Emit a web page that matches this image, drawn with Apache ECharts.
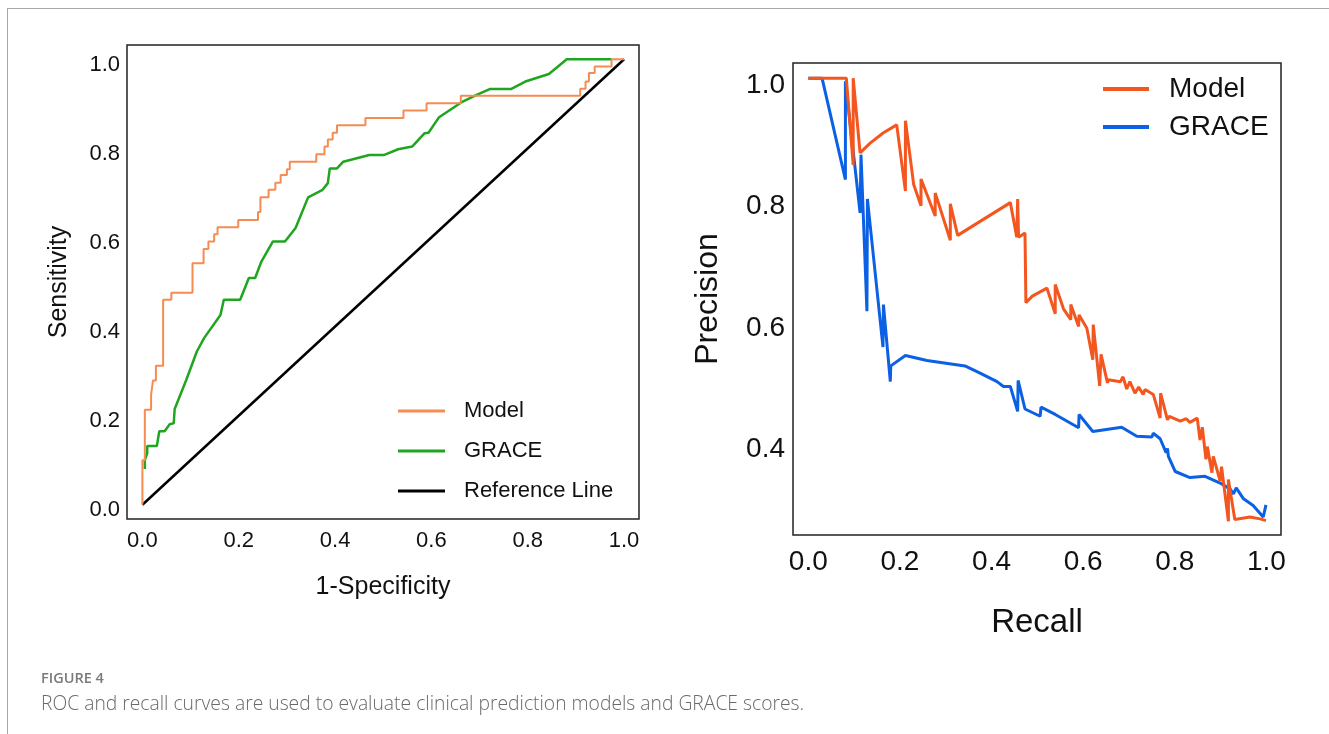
<!DOCTYPE html>
<html>
<head>
<meta charset="utf-8">
<title>ROC and PR curves</title>
<script src="https://cdn.jsdelivr.net/npm/echarts@6/dist/echarts.min.js"></script>
<style>
  html, body { margin: 0; padding: 0; background: #fff; overflow: hidden; }
  #frame { position: absolute; left: 7px; top: 8px; width: 1400px; height: 800px;
           border-top: 1.5px solid #a8a8a8; border-left: 1.5px solid #a8a8a8; }
  #chart { position: absolute; left: 0; top: 0; width: 1329px; height: 734px; }
  .fig { position: absolute; left: 41px; top: 668px; font-family: 'Open Sans', sans-serif;
         font-size: 14.5px; font-weight: 600; color: #7a7a7a; }
  .cap { position: absolute; left: 41px; top: 689px; font-family: 'Open Sans', sans-serif;
         font-size: 19.3px; font-weight: 300; color: #6a6a6a; white-space: nowrap; }
</style>
</head>
<body>
<div id="frame"></div>
<div id="chart"></div>
<div class="fig">FIGURE 4</div>
<div class="cap">ROC and recall curves are used to evaluate clinical prediction models and GRACE scores.</div>
<script>
// ROC (left panel)
const rocModelFpr = [0, 0, 0.005, 0.018, 0.022, 0.028, 0.043, 0.060, 0.104, 0.127, 0.137, 0.149,
  0.156, 0.199, 0.240, 0.245, 0.262, 0.276, 0.287, 0.300, 0.306, 0.361, 0.378, 0.385,
  0.395, 0.404, 0.463, 0.542, 0.590, 0.661, 0.909, 0.920, 0.927, 0.939, 0.974, 1.0];
const rocModelTpr = [0, 0.100, 0.213, 0.247, 0.279, 0.312, 0.460, 0.476, 0.542, 0.574, 0.591, 0.607,
  0.623, 0.639, 0.657, 0.690, 0.707, 0.723, 0.740, 0.753, 0.770, 0.787, 0.804, 0.820,
  0.835, 0.852, 0.868, 0.885, 0.901, 0.918, 0.934, 0.950, 0.969, 0.984, 1.0, 1.0];
const rocGraceFpr = [0.005, 0.005, 0.010, 0.010, 0.030, 0.035, 0.046, 0.057, 0.065, 0.067,
  0.091, 0.113, 0.128, 0.162, 0.169, 0.203, 0.221, 0.234, 0.247, 0.271,
  0.296, 0.318, 0.344, 0.374, 0.385, 0.389, 0.404, 0.417, 0.471, 0.501,
  0.531, 0.560, 0.586, 0.594, 0.616, 0.665, 0.694, 0.721, 0.765, 0.795, 0.844, 0.881, 0.974];
const rocGraceTpr = [0.080, 0.100, 0.116, 0.132, 0.132, 0.165, 0.165, 0.181, 0.183, 0.215,
  0.280, 0.344, 0.374, 0.426, 0.460, 0.460, 0.509, 0.509, 0.546, 0.591,
  0.591, 0.621, 0.690, 0.707, 0.722, 0.755, 0.755, 0.770, 0.785, 0.785,
  0.798, 0.804, 0.834, 0.835, 0.870, 0.905, 0.920, 0.933, 0.933, 0.950, 0.967, 1.0, 1.0];
const refX = [0, 1];
const refY = [0, 1];
const rocTicks = [0, 0.2, 0.4, 0.6, 0.8, 1.0];

// Precision-recall (right panel)
const prModelRecall = [0, 0.083, 0.098, 0.098, 0.113, 0.135, 0.164, 0.193, 0.212, 0.212,
  0.230, 0.246, 0.246, 0.277, 0.277, 0.310, 0.310, 0.326, 0.441, 0.455,
  0.457, 0.459, 0.473, 0.475, 0.489, 0.521, 0.539, 0.539, 0.557, 0.573,
  0.573, 0.590, 0.591, 0.608, 0.621, 0.622, 0.636, 0.639, 0.653, 0.655,
  0.681, 0.687, 0.695, 0.702, 0.713, 0.721, 0.731, 0.735, 0.753, 0.768,
  0.769, 0.784, 0.788, 0.812, 0.825, 0.833, 0.849, 0.855, 0.860, 0.868,
  0.871, 0.881, 0.884, 0.899, 0.902, 0.917, 0.917, 0.931, 0.935, 0.964, 0.986, 0.999];
const prModelPrecision = [1.0, 1.0, 0.857, 1.0, 0.877, 0.893, 0.910, 0.923, 0.814, 0.930,
  0.825, 0.790, 0.834, 0.773, 0.811, 0.733, 0.793, 0.741, 0.795, 0.738,
  0.801, 0.738, 0.745, 0.630, 0.641, 0.654, 0.612, 0.660, 0.620, 0.602,
  0.627, 0.591, 0.610, 0.588, 0.536, 0.594, 0.493, 0.545, 0.498, 0.503,
  0.500, 0.508, 0.488, 0.500, 0.481, 0.491, 0.479, 0.487, 0.479, 0.440,
  0.481, 0.437, 0.443, 0.435, 0.439, 0.433, 0.440, 0.404, 0.425, 0.372,
  0.393, 0.350, 0.377, 0.336, 0.360, 0.270, 0.339, 0.273, 0.275, 0.277, 0.274, 0.271];
const prGraceRecall = [0, 0.030, 0.081, 0.081, 0.113, 0.115, 0.128, 0.129, 0.163, 0.164,
  0.179, 0.180, 0.212, 0.259, 0.342, 0.375, 0.412, 0.426, 0.441, 0.457,
  0.458, 0.473, 0.506, 0.508, 0.539, 0.590, 0.591, 0.621, 0.684, 0.717,
  0.750, 0.753, 0.768, 0.781, 0.784, 0.786, 0.801, 0.833, 0.866, 0.899,
  0.921, 0.928, 0.934, 0.950, 0.971, 0.993, 0.999];
const prGracePrecision = [1.0, 1.0, 0.833, 0.995, 0.778, 0.874, 0.616, 0.801, 0.557, 0.627,
  0.500, 0.526, 0.543, 0.535, 0.526, 0.514, 0.500, 0.492, 0.492, 0.451,
  0.502, 0.455, 0.443, 0.458, 0.446, 0.424, 0.446, 0.418, 0.425, 0.410,
  0.409, 0.415, 0.406, 0.383, 0.390, 0.377, 0.352, 0.342, 0.344, 0.333,
  0.323, 0.315, 0.325, 0.307, 0.296, 0.277, 0.297];
const prXTicks = [0, 0.2, 0.4, 0.6, 0.8, 1.0];
const prYTicks = [0.4, 0.6, 0.8, 1.0];

const FONT = "'Liberation Sans', Arial, sans-serif";
const zip = (xs, ys) => xs.map((x, i) => [x, ys[i]]);

// one value axis, box drawn by the grid border; padTop nudges the labels down a bit
function axis(gridIndex, min, max, ticks, size, margin, name, nameGap, nameSize, rotate, padTop) {
  return {
    type: 'value', gridIndex, min, max,
    axisLine: { show: false }, axisTick: { show: false }, splitLine: { show: false },
    axisLabel: {
      customValues: ticks, margin,
      formatter: v => '{t|' + v.toFixed(1) + '}',
      rich: { t: { fontSize: size, fontFamily: FONT, color: '#111', padding: [padTop || 0, 0, 0, 0] } }
    },
    name, nameLocation: 'middle', nameGap, nameRotate: rotate,
    nameTextStyle: { fontSize: nameSize, fontFamily: FONT, color: '#111' }
  };
}

var myChart = echarts.init(document.getElementById('chart'), null, { renderer: 'canvas' });
myChart.setOption({
  animation: false,
  grid: [
    { left: 127, top: 45, width: 512, height: 474, show: true, borderColor: '#222', borderWidth: 1.5 },
    { left: 793, top: 63, width: 488, height: 472, show: true, borderColor: '#222', borderWidth: 1.5 }
  ],
  xAxis: [
    axis(0, -0.032, 1.031, rocTicks, 22, 11, '1-Specificity', 56, 25, 0),
    axis(1, -0.0334, 1.0318, prXTicks, 28, 13, 'Recall', 71, 33, 0)
  ],
  yAxis: [
    axis(0, -0.032, 1.032, rocTicks, 22, 7, 'Sensitivity', 55, 25, 90, 11),
    axis(1, 0.2474, 1.025, prYTicks, 28, 8, 'Precision', 69, 32, 90, 14)
  ],
  legend: [
    {
      orient: 'vertical', left: 398, top: 399, padding: 0, itemWidth: 47, itemHeight: 3, itemGap: 16, icon: 'rect',
      textStyle: { fontSize: 22, fontFamily: FONT, color: '#111', lineHeight: 24, padding: [0, 0, 0, 14] },
      data: [
        { name: 'Model', itemStyle: { color: '#f58c52' } },
        { name: 'GRACE', itemStyle: { color: '#1fa51f' } },
        { name: 'Reference Line', itemStyle: { color: '#000' } }
      ]
    },
    {
      orient: 'vertical', left: 1103, top: 74, padding: 0, itemWidth: 46, itemHeight: 4, itemGap: 8, icon: 'rect',
      textStyle: { fontSize: 28, fontFamily: FONT, color: '#111', lineHeight: 30, padding: [0, 0, 0, 15] },
      data: [
        { name: 'Model', itemStyle: { color: '#f4561f' } },
        { name: 'GRACE', itemStyle: { color: '#0b60e4' } }
      ]
    }
  ],
  series: [
    { name: 'Reference Line', type: 'line', xAxisIndex: 0, yAxisIndex: 0, symbol: 'none',
      data: zip(refX, refY), itemStyle: { color: '#000' }, lineStyle: { color: '#000', width: 2.5 } },
    { name: 'GRACE', type: 'line', xAxisIndex: 0, yAxisIndex: 0, symbol: 'none',
      data: zip(rocGraceFpr, rocGraceTpr), itemStyle: { color: '#1fa51f' }, lineStyle: { color: '#1fa51f', width: 2.5 } },
    { name: 'Model', type: 'line', xAxisIndex: 0, yAxisIndex: 0, symbol: 'none', step: 'end',
      data: zip(rocModelFpr, rocModelTpr), itemStyle: { color: '#f58c52' }, lineStyle: { color: '#f58c52', width: 2 } },
    { name: 'GRACE', type: 'line', xAxisIndex: 1, yAxisIndex: 1, symbol: 'none',
      data: zip(prGraceRecall, prGracePrecision), itemStyle: { color: '#0b60e4' }, lineStyle: { color: '#0b60e4', width: 3 } },
    { name: 'Model', type: 'line', xAxisIndex: 1, yAxisIndex: 1, symbol: 'none',
      data: zip(prModelRecall, prModelPrecision), itemStyle: { color: '#f4561f' }, lineStyle: { color: '#f4561f', width: 3 } }
  ]
});
</script>
</body>
</html>
